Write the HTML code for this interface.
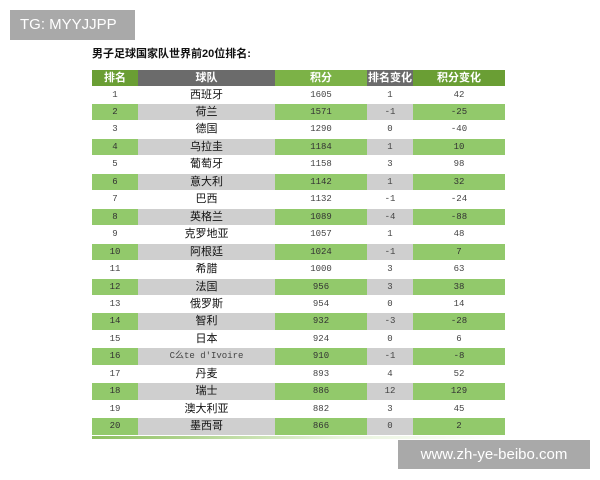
<!DOCTYPE html>
<html><head><meta charset="utf-8"><style>
body{margin:0;width:600px;height:480px;background:#fff;position:relative;overflow:hidden;font-family:"Liberation Sans","Noto Sans CJK SC",sans-serif}
.tg{position:absolute;left:10px;top:10px;width:125px;height:30px;background:#a9a9a9;color:#fff;font-size:15px;line-height:30px;padding-left:10px;box-sizing:border-box}
.wm{position:absolute;left:398px;top:440px;width:192px;height:29px;background:#a9a9a9;color:#fff;font-size:15px;line-height:29px;text-align:center}
.title{position:absolute;left:92px;top:45px;font-size:11px;font-weight:bold;color:#111}
.r{position:absolute;left:92px;width:413px;display:flex;height:16.45px;line-height:16.45px;overflow:hidden}
.r div{text-align:center;font-size:9px;color:#444;font-family:"Liberation Mono","Noto Sans CJK SC",monospace;overflow:hidden;white-space:nowrap}
.r div:nth-child(1){width:46px}.r div:nth-child(2){width:137px}.r div:nth-child(3){width:92px}.r div:nth-child(4){width:46px}.r div:nth-child(5){width:92px}
.r div.t{font-size:11px;color:#111;font-family:"Liberation Sans","Noto Sans CJK SC",sans-serif}
.h div{color:#fff!important;font-weight:bold;font-size:11px!important;font-family:"Liberation Sans","Noto Sans CJK SC",sans-serif!important}
.h div:nth-child(1),.h div:nth-child(5){background:#6a9e34}
.h div:nth-child(3){background:#7cb247}
.h div:nth-child(2),.h div:nth-child(4){background:#6b6b6b}
.e div:nth-child(odd){background:#92c96b;color:#333}
.e div:nth-child(even){background:#cfcfcf}
.bl{position:absolute;left:92px;top:436px;width:413px;height:3px;background:linear-gradient(90deg,#8cbf5e,#e8f3dc 60%,#fff)}
</style></head><body>
<div class="tg">TG: MYYJJPP</div>
<div class="title">男子足球国家队世界前20位排名:</div>
<div class="r h" style="top:70px;height:16px;line-height:16px"><div>排名</div><div>球队</div><div>积分</div><div>排名变化</div><div>积分变化</div></div>
<div id="rows"></div>
<div class="r" style="top:86.5px"><div>1</div><div class="t">西班牙</div><div>1605</div><div>1</div><div>42</div></div>
<div class="r e" style="top:104px"><div>2</div><div class="t">荷兰</div><div>1571</div><div>-1</div><div>-25</div></div>
<div class="r" style="top:121.4px"><div>3</div><div class="t">德国</div><div>1290</div><div>0</div><div>-40</div></div>
<div class="r e" style="top:138.9px"><div>4</div><div class="t">乌拉圭</div><div>1184</div><div>1</div><div>10</div></div>
<div class="r" style="top:156.3px"><div>5</div><div class="t">葡萄牙</div><div>1158</div><div>3</div><div>98</div></div>
<div class="r e" style="top:173.8px"><div>6</div><div class="t">意大利</div><div>1142</div><div>1</div><div>32</div></div>
<div class="r" style="top:191.2px"><div>7</div><div class="t">巴西</div><div>1132</div><div>-1</div><div>-24</div></div>
<div class="r e" style="top:208.7px"><div>8</div><div class="t">英格兰</div><div>1089</div><div>-4</div><div>-88</div></div>
<div class="r" style="top:226.1px"><div>9</div><div class="t">克罗地亚</div><div>1057</div><div>1</div><div>48</div></div>
<div class="r e" style="top:243.6px"><div>10</div><div class="t">阿根廷</div><div>1024</div><div>-1</div><div>7</div></div>
<div class="r" style="top:261px"><div>11</div><div class="t">希腊</div><div>1000</div><div>3</div><div>63</div></div>
<div class="r e" style="top:278.5px"><div>12</div><div class="t">法国</div><div>956</div><div>3</div><div>38</div></div>
<div class="r" style="top:295.9px"><div>13</div><div class="t">俄罗斯</div><div>954</div><div>0</div><div>14</div></div>
<div class="r e" style="top:313.4px"><div>14</div><div class="t">智利</div><div>932</div><div>-3</div><div>-28</div></div>
<div class="r" style="top:330.8px"><div>15</div><div class="t">日本</div><div>924</div><div>0</div><div>6</div></div>
<div class="r e" style="top:348.3px"><div>16</div><div>C么te d'Ivoire</div><div>910</div><div>-1</div><div>-8</div></div>
<div class="r" style="top:365.7px"><div>17</div><div class="t">丹麦</div><div>893</div><div>4</div><div>52</div></div>
<div class="r e" style="top:383.2px"><div>18</div><div class="t">瑞士</div><div>886</div><div>12</div><div>129</div></div>
<div class="r" style="top:400.6px"><div>19</div><div class="t">澳大利亚</div><div>882</div><div>3</div><div>45</div></div>
<div class="r e" style="top:418.1px"><div>20</div><div class="t">墨西哥</div><div>866</div><div>0</div><div>2</div></div>
<div class="bl"></div>
<div class="wm">www.zh-ye-beibo.com</div>
</body></html>
